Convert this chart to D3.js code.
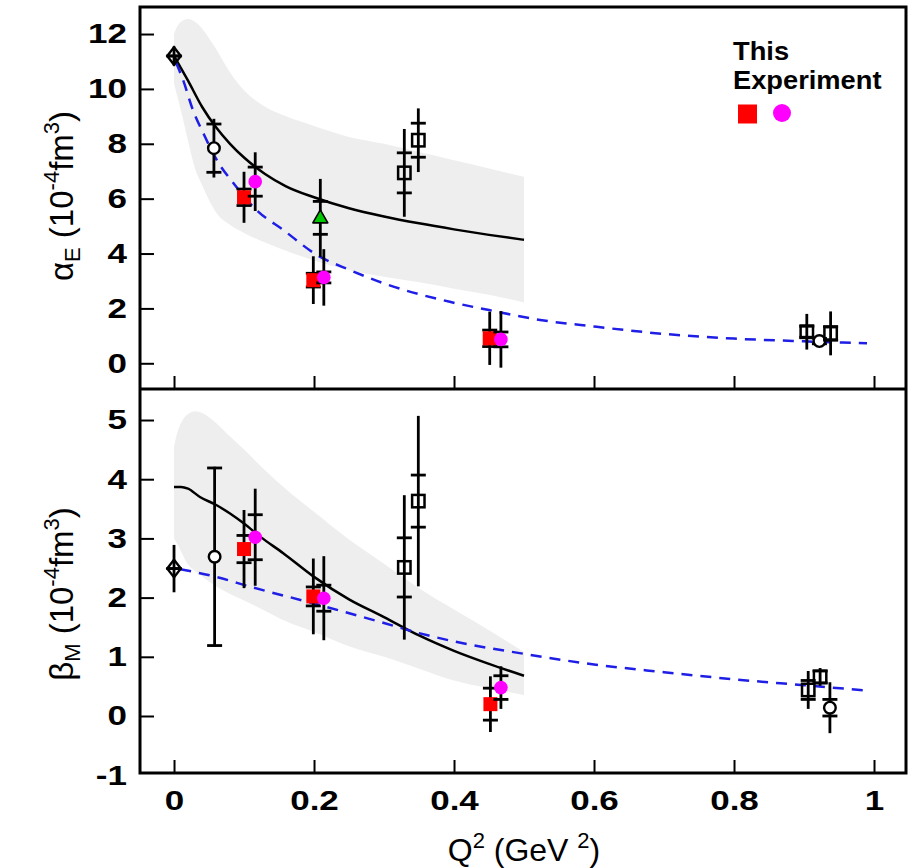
<!DOCTYPE html>
<html>
<head>
<meta charset="utf-8">
<script src="https://cdn.jsdelivr.net/npm/d3@7"></script>
<style>
  body { margin: 0; background: #fff; }
  svg { display: block; }
</style>
</head>
<body>
<script>
// ---- Axis ticks ----
const xTicks = [0, 0.2, 0.4, 0.6, 0.8, 1];
const alphaTicks = [0, 2, 4, 6, 8, 10, 12];
const betaTicks = [-1, 0, 1, 2, 3, 4, 5];

// ---- Data points: [Q2, value, stat. error, total error] ----
// alpha_E panel
const alphaRed     = [[0.100, 6.05, 0.30, 0.93], [0.199, 3.03, 0.25, 0.87], [0.451, 0.91, 0.30, 0.97]];
const alphaMagenta = [[0.116, 6.62, 0.53, 1.07], [0.214, 3.13, 0.20, 1.03], [0.467, 0.87, 0.27, 1.03]];
const alphaDiamond = [[0.000, 11.2, 0.00, 0.35]];
const alphaCircle  = [[0.057, 7.84, 0.88, 1.07], [0.922, 0.81, 0.10, 0.22]];
const alphaSquare  = [[0.329, 6.94, 0.73, 1.60], [0.349, 8.13, 0.62, 1.16], [0.904, 1.15, 0.20, 0.65], [0.938, 1.09, 0.25, 0.80]];
const alphaTriangle = [[0.209, 5.30, 0.60, 1.42]];

// beta_M panel
const betaRed     = [[0.100, 2.82, 0.23, 0.66], [0.199, 2.02, 0.16, 0.64], [0.452, 0.20, 0.27, 0.47]];
const betaMagenta = [[0.116, 3.02, 0.38, 0.82], [0.214, 1.99, 0.22, 0.71], [0.467, 0.48, 0.20, 0.36]];
const betaDiamond = [[0.000, 2.49, 0.00, 0.40]];
const betaCircle  = [[0.058, 2.69, 1.50, 1.52], [0.937, 0.14, 0.14, 0.43]];
const betaSquare  = [[0.329, 2.51, 0.50, 1.22], [0.349, 3.63, 0.44, 1.44], [0.906, 0.44, 0.16, 0.32], [0.923, 0.66, 0.10, 0.15]];

// ---- Model curves ----
const alphaSolidQ = [0, 0.02, 0.04, 0.06, 0.08, 0.1, 0.13, 0.16, 0.2, 0.25, 0.3, 0.35, 0.4, 0.45, 0.5];
const alphaSolid  = [11.2, 10.3, 9.35, 8.6, 8.0, 7.5, 6.9, 6.45, 6.05, 5.65, 5.35, 5.1, 4.88, 4.68, 4.5];
const alphaDashedQ = [0.003, 0.013, 0.027, 0.042, 0.061, 0.085, 0.118, 0.156, 0.204, 0.251, 0.3, 0.394, 0.45, 0.523, 0.6, 0.7, 0.8, 0.9, 0.99];
const alphaDashed  = [10.95, 10.32, 9.23, 8.38, 7.41, 6.56, 5.58, 4.86, 3.95, 3.4, 2.91, 2.24, 1.94, 1.58, 1.34, 1.07, 0.9, 0.8, 0.73];
const alphaBandQ  = [0, 0.005, 0.01, 0.02, 0.03, 0.04, 0.05, 0.06, 0.08, 0.1, 0.13, 0.16, 0.2, 0.25, 0.3, 0.35, 0.4, 0.45, 0.5];
const alphaBandLo = [10.2, 9.7, 9.2, 8.1, 7.1, 6.5, 5.95, 5.5, 5.05, 4.75, 4.4, 4.1, 3.75, 3.4, 3.15, 2.95, 2.72, 2.5, 2.22];
const alphaBandHi = [12.0, 12.3, 12.45, 12.55, 12.45, 12.2, 11.85, 11.45, 10.6, 9.95, 9.35, 9.0, 8.65, 8.25, 8.0, 7.7, 7.4, 7.1, 6.8];

const betaSolidQ = [0, 0.01, 0.02, 0.037, 0.061, 0.08, 0.1, 0.123, 0.156, 0.2, 0.25, 0.3, 0.35, 0.4, 0.45, 0.5];
const betaSolid  = [3.87, 3.87, 3.84, 3.7, 3.56, 3.42, 3.25, 3.03, 2.75, 2.35, 1.97, 1.67, 1.36, 1.1, 0.88, 0.68];
const betaDashedQ = [0.009, 0.06, 0.11, 0.2, 0.3, 0.35, 0.4, 0.5, 0.6, 0.7, 0.8, 0.9, 0.99];
const betaDashed  = [2.48, 2.35, 2.18, 1.9, 1.57, 1.4, 1.26, 1.05, 0.87, 0.74, 0.62, 0.52, 0.43];
const betaBandQ  = [0, 0.005, 0.01, 0.02, 0.03, 0.04, 0.06, 0.08, 0.1, 0.13, 0.16, 0.2, 0.25, 0.3, 0.35, 0.4, 0.45, 0.5];
const betaBandLo = [3.0, 2.9, 2.78, 2.56, 2.45, 2.36, 2.19, 2.06, 1.95, 1.78, 1.6, 1.42, 1.18, 1.0, 0.8, 0.6, 0.47, 0.35];
const betaBandHi = [4.55, 4.8, 4.95, 5.1, 5.15, 5.12, 4.95, 4.72, 4.5, 4.15, 3.83, 3.45, 2.98, 2.57, 2.16, 1.8, 1.45, 1.08];

// ---- Layout ----
const W = 917, H = 868;
const L = 140, R = 906, T = 7, MID = 389, B = 773;
const FONT = "'Liberation Sans', Arial, Helvetica, sans-serif";
const RED = "#ff0000", MAGENTA = "#ff00ff", GREEN = "#00c800", BLUE = "#1e1ee6", BAND = "#eeeeee";

const svg = d3.select("body").append("svg").attr("width", W).attr("height", H);

const x = d3.scaleLinear().domain([-0.0486, 1.0457]).range([L, R]);
const yA = d3.scaleLinear().domain([-0.937, 12.985]).range([MID, T]);
const yB = d3.scaleLinear().domain([-0.963, 5.524]).range([B, MID]);

function drawBand(y, q, lo, hi) {
  const area = d3.area()
    .x(i => x(q[i])).y0(i => y(lo[i])).y1(i => y(hi[i]))
    .curve(d3.curveMonotoneX);
  svg.append("path").attr("d", area(d3.range(q.length))).attr("fill", BAND);
}

function drawCurve(y, q, v, color, dash) {
  const line = d3.line().x(i => x(q[i])).y(i => y(v[i])).curve(d3.curveMonotoneX);
  svg.append("path").attr("d", line(d3.range(q.length)))
    .attr("fill", "none").attr("stroke", color).attr("stroke-width", 2.5)
    .attr("stroke-dasharray", dash || null);
}

function drawErrors(y, rows) {
  const g = svg.append("g").attr("stroke", "#000").attr("stroke-width", 2.8);
  rows.forEach(([q, v, stat, tot]) => {
    const cx = x(q);
    g.append("line").attr("x1", cx).attr("x2", cx).attr("y1", y(v - tot)).attr("y2", y(v + tot));
    [stat, -stat].forEach(s => {
      g.append("line").attr("x1", cx - 7.5).attr("x2", cx + 7.5).attr("y1", y(v + s)).attr("y2", y(v + s));
    });
  });
}

function drawMarkers(y, rows, shape) {
  const g = svg.append("g");
  rows.forEach(([q, v]) => {
    const cx = x(q), cy = y(v);
    if (shape === "redSquare") {
      g.append("rect").attr("x", cx - 7).attr("y", cy - 7).attr("width", 14).attr("height", 14).attr("fill", RED);
    } else if (shape === "magentaDot") {
      g.append("circle").attr("cx", cx).attr("cy", cy).attr("r", 6.8).attr("fill", MAGENTA);
    } else if (shape === "openCircle") {
      g.append("circle").attr("cx", cx).attr("cy", cy).attr("r", 5.8)
        .attr("fill", "#fff").attr("stroke", "#000").attr("stroke-width", 2.4);
    } else if (shape === "openSquare") {
      g.append("rect").attr("x", cx - 6.2).attr("y", cy - 6.2).attr("width", 12.4).attr("height", 12.4)
        .attr("fill", "none").attr("stroke", "#000").attr("stroke-width", 2.5);
    } else if (shape === "diamond") {
      g.append("path").attr("d", `M${cx},${cy - 8.8}L${cx + 6.8},${cy}L${cx},${cy + 8.8}L${cx - 6.8},${cy}Z`)
        .attr("fill", "none").attr("stroke", "#000").attr("stroke-width", 2.4);
    } else if (shape === "triangle") {
      g.append("path").attr("d", `M${cx},${cy - 8}L${cx + 7.5},${cy + 5}L${cx - 7.5},${cy + 5}Z`)
        .attr("fill", GREEN).attr("stroke", "#000").attr("stroke-width", 1.6).attr("stroke-linejoin", "round");
    }
  });
}

function drawPoints(y, sets) {
  sets.forEach(([rows, shape]) => { drawErrors(y, rows); drawMarkers(y, rows, shape); });
}

// ---- alpha_E panel ----
drawBand(yA, alphaBandQ, alphaBandLo, alphaBandHi);
drawCurve(yA, alphaSolidQ, alphaSolid, "#000");
drawCurve(yA, alphaDashedQ, alphaDashed, BLUE, "11,8");
drawPoints(yA, [
  [alphaDiamond, "diamond"], [alphaCircle, "openCircle"], [alphaSquare, "openSquare"],
  [alphaTriangle, "triangle"], [alphaRed, "redSquare"], [alphaMagenta, "magentaDot"]
]);

// ---- beta_M panel ----
drawBand(yB, betaBandQ, betaBandLo, betaBandHi);
drawCurve(yB, betaSolidQ, betaSolid, "#000");
drawCurve(yB, betaDashedQ, betaDashed, BLUE, "11,8");
drawPoints(yB, [
  [betaDiamond, "diamond"], [betaCircle, "openCircle"], [betaSquare, "openSquare"],
  [betaRed, "redSquare"], [betaMagenta, "magentaDot"]
]);

// ---- Axes ----
function styleAxis(g, anchor) {
  g.attr("font-family", null).attr("font-size", null);
  g.select(".domain").remove();
  g.selectAll(".tick line").attr("stroke", "#000").attr("stroke-width", 2);
  g.selectAll(".tick text")
    .attr("fill", "#000")
    .style("font", `bold 28px ${FONT}`)
    .attr("text-anchor", anchor)
    .attr("transform", "scale(1.25,1)");
}

svg.append("g").attr("transform", `translate(${L},0)`)
  .call(d3.axisLeft(yA).tickValues(alphaTicks).tickSize(-14).tickPadding(10.5).tickFormat(d => String(d)))
  .call(styleAxis, "end");
svg.append("g").attr("transform", `translate(${L},0)`)
  .call(d3.axisLeft(yB).tickValues(betaTicks).tickSize(-14).tickPadding(10.5).tickFormat(d => String(d)))
  .call(styleAxis, "end")
  .call(g => g.selectAll(".tick").filter(d => d === -1).select("line").remove());
svg.append("g").attr("transform", `translate(0,${MID})`)
  .call(d3.axisBottom(x).tickValues(xTicks).tickSize(-13).tickFormat(() => ""))
  .call(styleAxis, "middle");
svg.append("g").attr("transform", `translate(0,${B})`)
  .call(d3.axisBottom(x).tickValues(xTicks).tickSize(-13).tickPadding(17).tickFormat(d => String(d)))
  .call(styleAxis, "middle");

// ---- Frame and panel divider ----
svg.append("rect").attr("x", L).attr("y", T).attr("width", R - L).attr("height", B - T)
  .attr("fill", "none").attr("stroke", "#000").attr("stroke-width", 3);
svg.append("line").attr("x1", L).attr("x2", R).attr("y1", MID).attr("y2", MID)
  .attr("stroke", "#000").attr("stroke-width", 3);

// ---- Axis titles ----
function yTitle(cy, sym, sub) {
  const t = svg.append("text")
    .attr("transform", `translate(73,${cy}) rotate(-90)`)
    .attr("text-anchor", "middle")
    .style("font", `33px ${FONT}`).attr("fill", "#000");
  t.append("tspan").text(sym);
  t.append("tspan").attr("font-size", 22).attr("dy", 7).text(sub);
  t.append("tspan").attr("dy", -7).text(" (10");
  t.append("tspan").attr("font-size", 22).attr("dy", -14).text("-4");
  t.append("tspan").attr("dy", 14).text("fm");
  t.append("tspan").attr("font-size", 22).attr("dy", -14).text("3");
  t.append("tspan").attr("dy", 14).text(")");
}
yTitle(196, "α", "E");
yTitle(594, "β", "M");

const xt = svg.append("text").attr("x", 524).attr("y", 861).attr("text-anchor", "middle")
  .style("font", `32px ${FONT}`).attr("fill", "#000");
xt.append("tspan").text("Q");
xt.append("tspan").attr("font-size", 22).attr("dy", -13).text("2");
xt.append("tspan").attr("dy", 13).text(" (GeV ");
xt.append("tspan").attr("font-size", 22).attr("dy", -13).text("2");
xt.append("tspan").attr("dy", 13).text(")");

// ---- Legend ----
const legend = svg.append("g").attr("transform", "translate(733,0) scale(1.07,1)");
legend.append("text").attr("x", 0).attr("y", 60.5)
  .style("font", `bold 25.5px ${FONT}`).attr("fill", "#000").text("This");
legend.append("text").attr("x", 0).attr("y", 89)
  .style("font", `bold 25.5px ${FONT}`).attr("fill", "#000").text("Experiment");
svg.append("rect").attr("x", 738).attr("y", 104.5).attr("width", 19).attr("height", 19).attr("fill", RED);
svg.append("circle").attr("cx", 782).attr("cy", 113).attr("r", 9).attr("fill", MAGENTA);
</script>
</body>
</html>
